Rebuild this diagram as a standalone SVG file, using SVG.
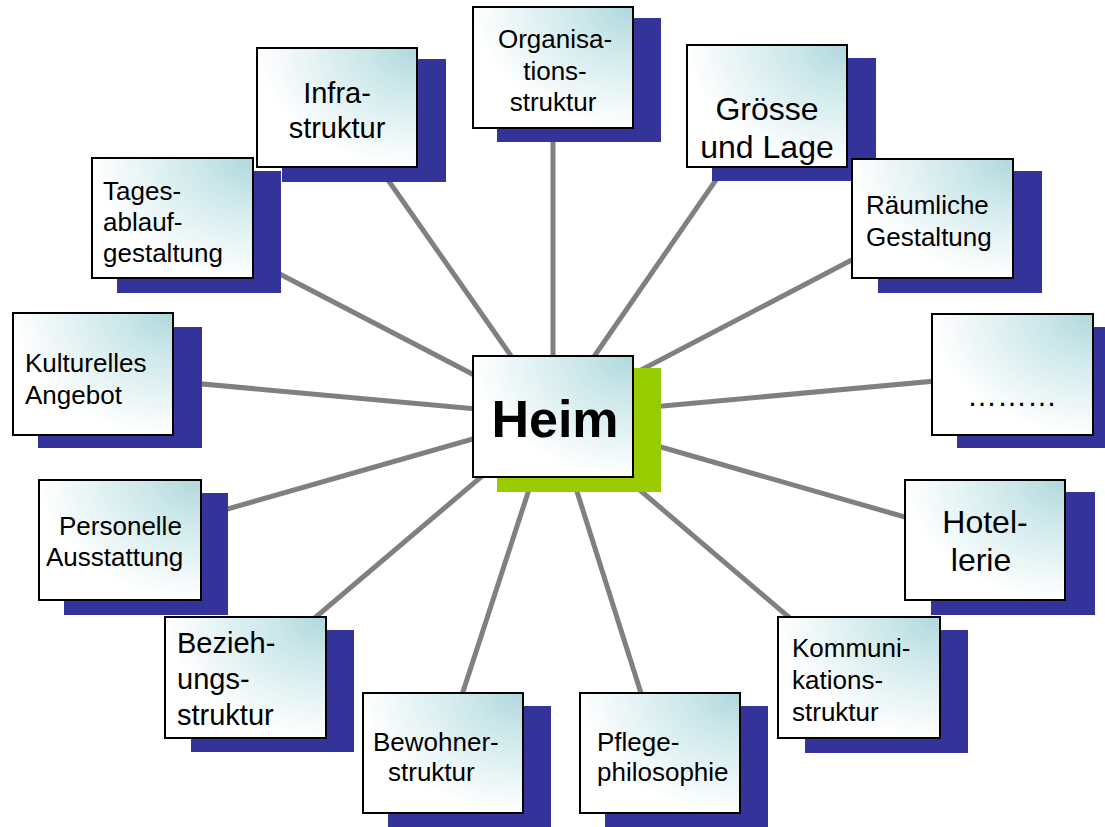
<svg xmlns="http://www.w3.org/2000/svg" width="1105" height="827" viewBox="0 0 1105 827">
<defs>
<radialGradient id="g" cx="1" cy="0" r="1" gradientUnits="objectBoundingBox">
<stop offset="0" stop-color="#aed8dc"/>
<stop offset="0.35" stop-color="#cde8ea"/>
<stop offset="1" stop-color="#ffffff"/>
</radialGradient>
<style>
.sh{fill:#333399}
.bx{fill:url(#g);stroke:#000;stroke-width:2}
.t{font-family:"Liberation Sans",Arial,sans-serif;fill:#000}
.c{stroke:#808080;stroke-width:5;fill:none}
</style>
</defs>
<rect width="1105" height="827" fill="#fff"/>
<g id="connectors">
<line class="c" x1="553" y1="416" x2="553" y2="67"/>
<line class="c" x1="553" y1="416" x2="337" y2="107"/>
<line class="c" x1="553" y1="416" x2="767" y2="106"/>
<line class="c" x1="553" y1="416" x2="172" y2="218"/>
<line class="c" x1="553" y1="416" x2="932" y2="218"/>
<line class="c" x1="553" y1="416" x2="93" y2="374"/>
<line class="c" x1="553" y1="416" x2="1012" y2="374"/>
<line class="c" x1="553" y1="416" x2="119" y2="540"/>
<line class="c" x1="553" y1="416" x2="985" y2="540"/>
<line class="c" x1="553" y1="416" x2="245" y2="677"/>
<line class="c" x1="553" y1="416" x2="859" y2="677"/>
<line class="c" x1="553" y1="416" x2="443" y2="753"/>
<line class="c" x1="553" y1="416" x2="660" y2="753"/>
</g>
<g id="organisationsstruktur">
<rect class="sh" x="497" y="18" width="164" height="124"/>
<rect class="bx" x="473" y="7" width="160" height="121"/>
<text class="t" font-size="26" text-anchor="middle"><tspan x="555" y="48">Organisa-</tspan><tspan x="555" y="80">tions-</tspan><tspan x="553" y="111">struktur</tspan></text>
</g>
<g id="infrastruktur">
<rect class="sh" x="282" y="59" width="164" height="123"/>
<rect class="bx" x="257" y="48" width="160" height="119"/>
<text class="t" font-size="29" text-anchor="middle"><tspan x="337" y="103">Infra-</tspan><tspan x="337" y="138">struktur</tspan></text>
</g>
<g id="groesse">
<rect class="sh" x="712" y="58" width="164" height="123"/>
<rect class="bx" x="687" y="45" width="160" height="122"/>
<text class="t" font-size="32" text-anchor="middle"><tspan x="767" y="120">Grösse</tspan><tspan x="767" y="158">und Lage</tspan></text>
</g>
<g id="tagesablauf">
<rect class="sh" x="117" y="171" width="164" height="122"/>
<rect class="bx" x="92" y="158" width="161" height="120"/>
<text class="t" font-size="26"><tspan x="103" y="200">Tages-</tspan><tspan x="103" y="231">ablauf-</tspan><tspan x="103" y="262">gestaltung</tspan></text>
</g>
<g id="raeumliche">
<rect class="sh" x="878" y="171" width="164" height="122"/>
<rect class="bx" x="852" y="159" width="161" height="119"/>
<text class="t" font-size="26"><tspan x="866" y="214">Räumliche</tspan><tspan x="866" y="246">Gestaltung</tspan></text>
</g>
<g id="kulturelles">
<rect class="sh" x="38" y="327" width="164" height="121"/>
<rect class="bx" x="13" y="313" width="160" height="122"/>
<text class="t" font-size="26"><tspan x="25" y="372">Kulturelles</tspan><tspan x="25" y="404">Angebot</tspan></text>
</g>
<g id="dots">
<rect class="sh" x="957" y="327" width="164" height="121"/>
<rect class="bx" x="932" y="314" width="161" height="121"/>
<text class="t" font-size="30" text-anchor="middle" x="1012" y="406">………</text>
</g>
<g id="personelle">
<rect class="sh" x="64" y="493" width="164" height="122"/>
<rect class="bx" x="39" y="480" width="162" height="120"/>
<text class="t" font-size="26"><tspan x="59" y="535">Personelle</tspan><tspan x="46" y="566">Ausstattung</tspan></text>
</g>
<g id="hotellerie">
<rect class="sh" x="931" y="492" width="164" height="123"/>
<rect class="bx" x="905" y="480" width="160" height="120"/>
<text class="t" font-size="32" text-anchor="middle"><tspan x="985" y="533">Hotel-</tspan><tspan x="981" y="571">lerie</tspan></text>
</g>
<g id="beziehung">
<rect class="sh" x="191" y="630" width="163" height="122"/>
<rect class="bx" x="165" y="617" width="161" height="121"/>
<text class="t" font-size="29"><tspan x="177" y="653">Bezieh-</tspan><tspan x="177" y="689">ungs-</tspan><tspan x="177" y="725">struktur</tspan></text>
</g>
<g id="kommunikation">
<rect class="sh" x="805" y="630" width="163" height="123"/>
<rect class="bx" x="778" y="617" width="162" height="121"/>
<text class="t" font-size="26"><tspan x="792" y="657">Kommuni-</tspan><tspan x="792" y="689">kations-</tspan><tspan x="792" y="721">struktur</tspan></text>
</g>
<g id="bewohner">
<rect class="sh" x="388" y="706" width="163" height="122"/>
<rect class="bx" x="363" y="693" width="160" height="120"/>
<text class="t" font-size="26"><tspan x="373" y="751">Bewohner-</tspan><tspan x="388" y="781">struktur</tspan></text>
</g>
<g id="pflege">
<rect class="sh" x="605" y="706" width="163" height="122"/>
<rect class="bx" x="580" y="693" width="160" height="120"/>
<text class="t" font-size="26"><tspan x="597" y="751">Pflege-</tspan><tspan x="597" y="781">philosophie</tspan></text>
</g>
<g id="heim">
<rect x="497" y="368" width="164" height="124" fill="#99cc00"/>
<rect class="bx" x="473" y="356" width="160" height="121"/>
<text class="t" font-size="52" font-weight="bold" text-anchor="middle" x="555" y="437">Heim</text>
</g>
</svg>
